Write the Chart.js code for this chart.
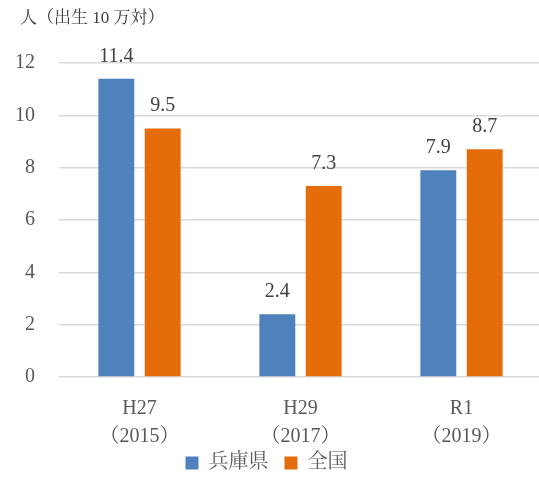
<!DOCTYPE html>
<html><head><meta charset="utf-8">
<script src="https://cdn.jsdelivr.net/npm/chart.js@4/dist/chart.umd.min.js"></script>
<style>html,body{margin:0;padding:0;background:#fff;overflow:hidden}#wrap{width:539px;height:499px;position:relative;overflow:hidden}canvas{display:block}</style>
</head><body><div id="wrap"><canvas id="c" width="542" height="499"></canvas></div>
<script>
const categories = [["H27","（2015）"],["H29","（2017）"],["R1","（2019）"]];
const hyogo = [11.4, 2.4, 7.9];
const national = [9.5, 7.3, 8.7];
const seriesNames = ["兵庫県","全国"];
const yTitle = "人（出生 10 万対）";
const FONT = "'Liberation Serif','Noto Serif CJK JP','Noto Sans CJK JP',serif";

const labelPlugin = {
  id:'lbl',
  afterInit(chart){
    const lg = chart.legend;
    if (lg) {
      const orig = lg.fit.bind(lg);
      lg.fit = function(){ orig(); this.height = 38; };
    }
  },
  afterLayout(chart){
    const lg = chart.legend;
    if (lg) { const h = lg.bottom - lg.top; lg.top = 437; lg.bottom = 437 + h; }
  },
  afterDatasetsDraw(chart){
    const ctx = chart.ctx;
    ctx.save();
    ctx.font = "20px " + FONT;
    ctx.fillStyle = "#404040";
    ctx.textAlign = "center";
    ctx.textBaseline = "alphabetic";
    chart.data.datasets.forEach((ds,i)=>{
      chart.getDatasetMeta(i).data.forEach((bar,j)=>{
        ctx.fillText(ds.data[j].toFixed(1), bar.x, bar.y - 17);
      });
    });
    ctx.font = "17px " + FONT;
    ctx.textAlign = "left";
    ctx.textBaseline = "middle";
    ctx.fillStyle = "#404040";
    ctx.fillText(yTitle, 20, 19);
    ctx.restore();
  }
};

new Chart(document.getElementById('c'), {
  type:'bar',
  data:{
    labels: categories,
    datasets:[
      {label:seriesNames[0], data:hyogo, backgroundColor:'#4F81BD'},
      {label:seriesNames[1], data:national, backgroundColor:'#E46C0A'}
    ]
  },
  options:{
    responsive:false, animation:false,
    layout:{padding:{top:63,right:0,left:-9,bottom:0}},
    categoryPercentage:0.576, barPercentage:0.774,
    plugins:{
      legend:{position:'bottom', labels:{boxWidth:13, boxHeight:13, font:{family:FONT,size:20}, color:'#595959', padding:16}},
      tooltip:{enabled:false}
    },
    scales:{
      x:{grid:{display:false}, border:{display:false},
         ticks:{font:{family:FONT,size:20, lineHeight:1.4}, color:'#595959', padding:10}},
      y:{min:0,max:12, ticks:{stepSize:2, font:{family:FONT,size:20}, color:'#595959', padding:24},
         grid:{color:'#d9d9d9', lineWidth:1.5, drawTicks:false}, border:{display:false}}
    }
  },
  plugins:[labelPlugin]
});
</script></body></html>
